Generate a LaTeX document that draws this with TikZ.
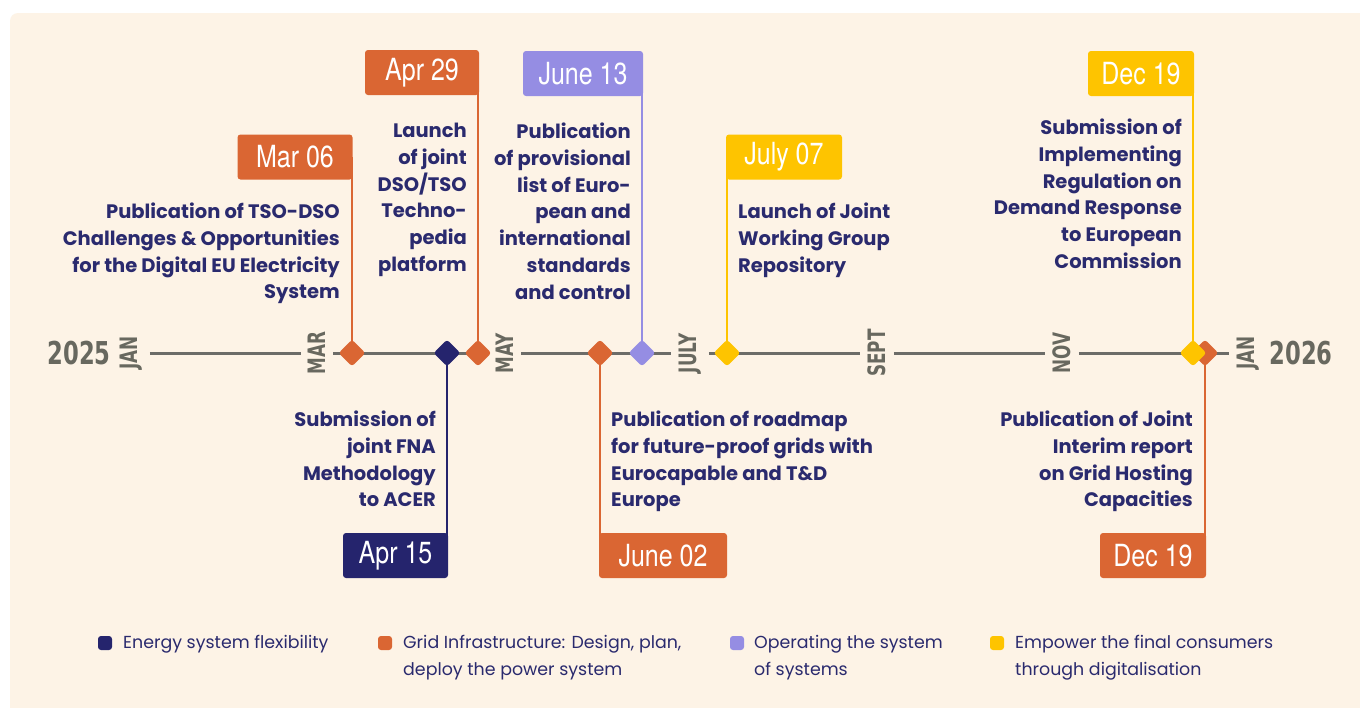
\documentclass[tikz,border=0pt]{standalone}
\usepackage{fontspec}
\setmainfont{Poppins}
\newfontfamily\datefont[FakeStretch=0.82]{TeX Gyre Heros}
\newfontfamily\monthfont[FakeStretch=0.7]{DejaVu Sans}
\newfontfamily\yearfont[FakeStretch=0.72]{DejaVu Sans}
\definecolor{cream}{HTML}{FDF3E6}
\definecolor{orng}{HTML}{DA6633}
\definecolor{navy}{HTML}{25246D}
\definecolor{lav}{HTML}{958DE3}
\definecolor{yel}{HTML}{FEC400}
\definecolor{gline}{HTML}{6C6C68}
\definecolor{gtext}{HTML}{68685F}
\definecolor{ntext}{HTML}{2A2A6E}
\begin{document}
\begin{tikzpicture}[x=1pt,y=-1pt,
  datebox/.style={rounded corners=3pt, minimum height=45pt, inner sep=0pt, text=white,
    font=\datefont\fontsize{30.5}{30.5}\selectfont},
  dia/.style={rectangle, rotate=45, minimum size=19pt, inner sep=0pt, rounded corners=3pt},
  stem/.style={line width=2.5pt},
  desc/.style={text=ntext, inner sep=0pt, font=\bfseries\fontsize{19.5}{26.7}\selectfont},
  month/.style={rotate=90, text=gtext, inner sep=0pt, font=\monthfont\bfseries\fontsize{24}{24}\selectfont},
  year/.style={text=gtext, inner sep=0pt, font=\yearfont\bfseries\fontsize{31.5}{31.5}\selectfont},
  tl/.style={draw=gline, line width=3pt, shorten <=7.5pt, shorten >=7.5pt},
  legsq/.style={rectangle, minimum size=14pt, inner sep=0pt, rounded corners=3pt},
  legtxt/.style={text=ntext, inner sep=0pt, align=left, anchor=north west,
    font=\fontsize{17.4}{27}\selectfont}
]
\useasboundingbox (0,0) rectangle (1360,707);
\fill[white] (0,0) rectangle (1360,707);
\fill[cream, rounded corners=8pt] (10,13) rectangle (1380,727);

% timeline labels
\node[year] (y25) at (79,353) {2025};
\node[year] (y26) at (1301,353) {2026};
\node[month] (jan1) at (131,353) {JAN};
\node[month] (mar) at (317,353) {MAR};
\node[month] (may) at (505,353) {MAY};
\node[month] (jul) at (690,353) {JULY};
\node[month] (sep) at (877,353) {SEPT};
\node[month] (nov) at (1062,353) {NOV};
\node[month] (jan2) at (1248,353) {JAN};
\draw[tl] (jan1) -- (mar);
\draw[tl] (mar) -- (may);
\draw[tl] (may) -- (jul);
\draw[tl] (jul) -- (sep);
\draw[tl] (sep) -- (nov);
\draw[tl] (nov) -- (jan2);

% diamond coordinates
\coordinate (cmar) at (352,353);
\coordinate (capra) at (447,353);
\coordinate (caprb) at (478,353);
\coordinate (cjuna) at (600,353);
\coordinate (cjunb) at (642,353);
\coordinate (cjul) at (727,353);
\coordinate (cdecb) at (1205,353);
\coordinate (cdect) at (1193,353);

% date boxes (positions)
\coordinate (pmar) at (295,157);
\coordinate (paprb) at (422,72.5);
\coordinate (pjunb) at (583,73.5);
\coordinate (pjul) at (784,157);
\coordinate (pdect) at (1141,73.5);
\coordinate (papra) at (395.5,555.5);
\coordinate (pjuna) at (663,555.5);
\coordinate (pdecb) at (1153,555.5);

% stems
\draw[stem, orng] (cmar |- pmar) -- (cmar);
\draw[stem, orng] (caprb |- paprb) -- (caprb);
\draw[stem, lav] (cjunb |- pjunb) -- (cjunb);
\draw[stem, yel] (cjul |- pjul) -- (cjul);
\draw[stem, yel] (cdect |- pdect) -- (cdect);
\draw[stem, navy] (capra |- papra) -- (capra);
\draw[stem, orng] (cjuna |- pjuna) -- (cjuna);
\draw[stem, orng] (cdecb |- pdecb) -- (cdecb);

% diamonds
\node[dia, fill=orng] (dmar) at (cmar) {};
\node[dia, fill=navy] (dapra) at (capra) {};
\node[dia, fill=orng] (daprb) at (caprb) {};
\node[dia, fill=orng] (djuna) at (cjuna) {};
\node[dia, fill=lav] (djunb) at (cjunb) {};
\node[dia, fill=yel] (djul) at (cjul) {};
\node[dia, fill=orng] (ddecb) at (cdecb) {};
\node[dia, fill=yel] (ddect) at (cdect) {};

% date boxes
\node[datebox, fill=orng, minimum width=115pt] (bmar) at (pmar) {Mar 06};
\node[datebox, fill=orng, minimum width=114pt] (baprb) at (paprb) {Apr 29};
\node[datebox, fill=lav, minimum width=120pt] (bjunb) at (pjunb) {June 13};
\node[datebox, fill=yel, minimum width=116pt] (bjul) at (pjul) {July 07};
\node[datebox, fill=yel, minimum width=106pt] (bdect) at (pdect) {Dec 19};
\node[datebox, fill=navy, minimum width=105pt] (bapra) at (papra) {Apr 15};
\node[datebox, fill=orng, minimum width=128pt] (bjuna) at (pjuna) {June 02};
\node[datebox, fill=orng, minimum width=106pt] (bdecb) at (pdecb) {Dec 19};

% descriptions
\node[desc, align=right, anchor=north east] (tmar) at (340,203)
  {Publication of TSO-DSO\\Challenges \& Opportunities\\for the Digital EU Electricity\\System};
\node[desc, align=right, anchor=north east] (taprb) at (467,123)
  {Launch\\of joint\\DSO/TSO\\Techno-\\pedia\\platform};
\node[desc, align=right, anchor=north east] (tjunb) at (631,123)
  {Publication\\of provisional\\list of Euro-\\pean and\\international\\standards\\and control};
\node[desc, align=left, anchor=north west] (tjul) at (738,203)
  {Launch of Joint\\Working Group\\Repository};
\node[desc, align=right, anchor=north east] (tdect) at (1182,119)
  {Submission of\\Implementing\\Regulation on\\Demand Response\\to European\\Commission};
\node[desc, align=right, anchor=north east] (tapra) at (436,411)
  {Submission of\\joint FNA\\Methodology\\to ACER};
\node[desc, align=left, anchor=north west] (tjuna) at (611,411)
  {Publication of roadmap\\for future-proof grids with\\Eurocapable and T\&D\\Europe};
\node[desc, align=right, anchor=north east] (tdecb) at (1193,411)
  {Publication of Joint\\Interim report\\on Grid Hosting\\Capacities};

% legend
\node[legsq, fill=navy] (l1) at (105,643) {};
\node[legtxt] (lt1) at (123,635) {Energy system flexibility};
\node[legsq, fill=orng] (l2) at (385,643) {};
\node[legtxt] (lt2) at (403,635) {Grid Infrastructure: Design, plan,\\deploy the power system};
\node[legsq, fill=lav] (l3) at (737,643) {};
\node[legtxt] (lt3) at (754,635) {Operating the system\\of systems};
\node[legsq, fill=yel] (l4) at (997,643) {};
\node[legtxt] (lt4) at (1015,635) {Empower the final consumers\\through digitalisation};
\end{tikzpicture}
\end{document}
